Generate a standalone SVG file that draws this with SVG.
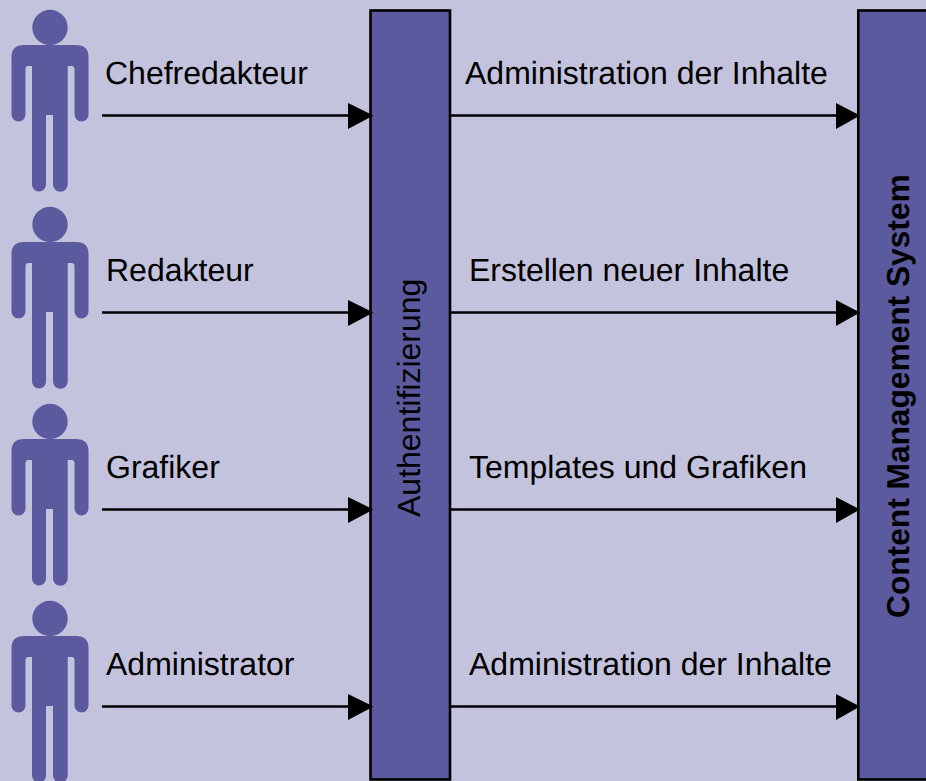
<svg xmlns="http://www.w3.org/2000/svg" width="926" height="781" viewBox="0 0 926 781">
<style>
.t{font-family:"Liberation Sans",Arial,sans-serif;font-size:32px;fill:#000;text-rendering:geometricPrecision}
.h{font-weight:bold;font-size:31.700px}
.b{fill:#5b5a9e;stroke:#000;stroke-width:2.600}
.p{fill:#5b5a9e}
.c{stroke:#000;stroke-width:2.600;fill:none}
.a{fill:#000}
</style>
<defs>
<g id="person">
<circle cx="50" cy="27.500" r="17.700"/>
<path d="M24 45H76Q88.500 45 88.500 57V114.500A7 7 0 0 1 74.500 114.500V69Q74.500 66 71.500 66H67.700V184.500A7.350 7.350 0 0 1 53 184.500V115H46V184.500A7 7 0 0 1 32 184.500V66H28.500Q25.500 66 25.500 69V114.500A7 7 0 0 1 11.500 114.500V57Q11.500 45 24 45Z"/>
</g>
</defs>
<rect width="926" height="781" fill="#c3c3dd"/>
<g id="person-chefredakteur" class="p"><use href="#person"/></g>
<g id="person-redakteur" class="p"><use href="#person" y="197"/></g>
<g id="person-grafiker" class="p"><use href="#person" y="394"/></g>
<g id="person-administrator" class="p"><use href="#person" y="591"/></g>
<g id="node-auth"><rect class="b" x="370.500" y="10.500" width="79.500" height="769"/>
<text class="t" transform="translate(420 517) rotate(-90)">Authentifizierung</text></g>
<g id="node-cms"><rect class="b" x="858.300" y="10.500" width="80" height="769"/>
<text class="t h" transform="translate(908.500 618) rotate(-90)">Content Management System</text></g>
<g id="connectors">
<path class="c" d="M102 115.500H350M450 115.500H838M102 312.500H350M450 312.500H838M102 509.500H350M450 509.500H838M102 706.500H350M450 706.500H838"/>
<path class="a" d="M348 103L373.500 115.500L348 129ZM836 103L860 115.500L836 129ZM348 300L373.500 312.500L348 326ZM836 300L860 312.500L836 326ZM348 497L373.500 509.500L348 523ZM836 497L860 509.500L836 523ZM348 694L373.500 706.500L348 720ZM836 694L860 706.500L836 720Z"/>
</g>
<g id="labels">
<text class="t" x="105" y="84">Chefredakteur</text>
<text class="t" x="106" y="281">Redakteur</text>
<text class="t" x="106" y="478">Grafiker</text>
<text class="t" x="106" y="675">Administrator</text>
<text class="t" x="465" y="84">Administration der Inhalte</text>
<text class="t" x="469" y="281">Erstellen neuer Inhalte</text>
<text class="t" x="469" y="478">Templates und Grafiken</text>
<text class="t" x="469" y="675">Administration der Inhalte</text>
</g>
</svg>
